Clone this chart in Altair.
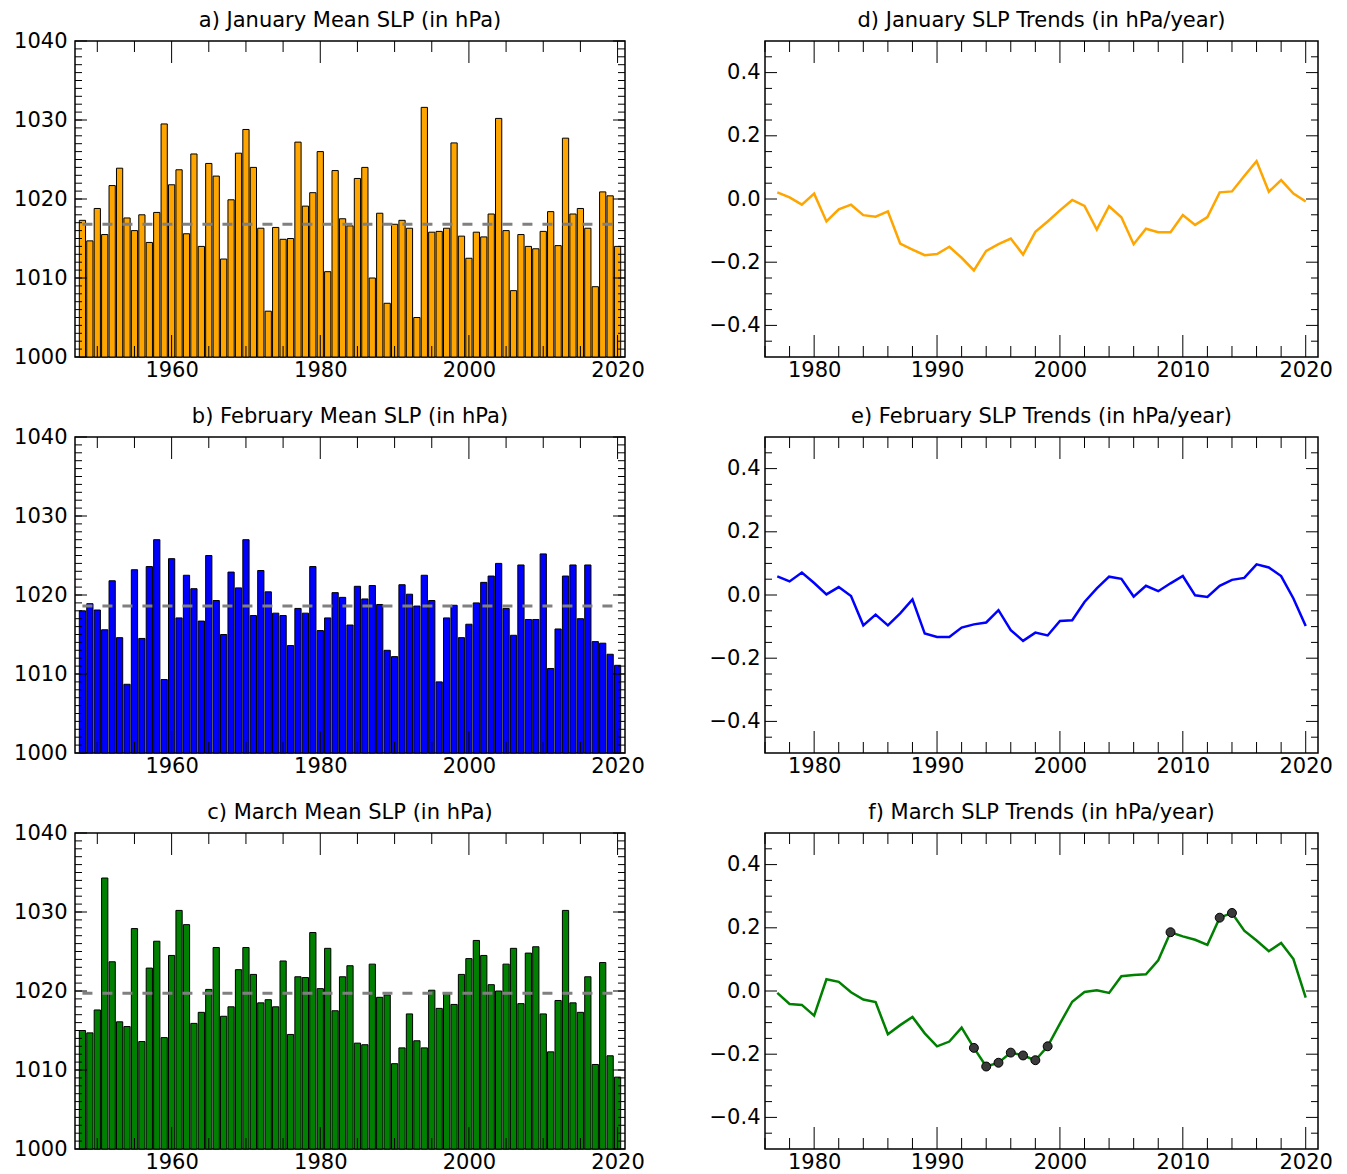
import altair as alt
import pandas as pd

FONT = "DejaVu Sans"

# ---------------- data ----------------
YEARS_BAR = list(range(1948, 2021))
JAN_SLP = [1017.3, 1014.7, 1018.8, 1015.5, 1021.7, 1023.9, 1017.6, 1016.0, 1018.0, 1014.5,
           1018.3, 1029.5, 1021.8, 1023.7, 1015.6, 1025.7, 1014.0, 1024.5, 1022.9, 1012.4,
           1019.9, 1025.8, 1028.8, 1024.0, 1016.3, 1005.8, 1016.4, 1014.9, 1015.0, 1027.2,
           1019.1, 1020.8, 1026.0, 1010.8, 1023.6, 1017.5, 1016.6, 1022.6, 1024.0, 1010.0,
           1018.2, 1006.8, 1016.8, 1017.3, 1016.3, 1005.0, 1031.6, 1015.8, 1015.9, 1016.3,
           1027.1, 1015.3, 1012.5, 1015.8, 1015.2, 1018.1, 1030.2, 1016.0, 1008.4, 1015.5,
           1014.0, 1013.7, 1015.9, 1018.4, 1014.1, 1027.7, 1018.1, 1018.8, 1016.3, 1008.9,
           1020.9, 1020.4, 1014.0]
FEB_SLP = [1018.0, 1018.9, 1018.1, 1015.6, 1021.8, 1014.6, 1008.7, 1023.2, 1014.5, 1023.6,
           1027.0, 1009.3, 1024.6, 1017.1, 1022.5, 1020.8, 1016.7, 1025.0, 1019.3, 1015.0,
           1022.9, 1020.9, 1027.0, 1017.4, 1023.1, 1020.4, 1017.7, 1017.4, 1013.6, 1018.3,
           1017.7, 1023.6, 1015.5, 1017.1, 1020.3, 1019.7, 1016.2, 1021.1, 1019.5, 1021.2,
           1018.8, 1013.0, 1012.2, 1021.3, 1020.1, 1018.6, 1022.5, 1019.3, 1009.0, 1017.1,
           1018.7, 1014.6, 1016.3, 1019.0, 1021.6, 1022.4, 1024.0, 1018.3, 1014.9, 1023.8,
           1016.9, 1016.9, 1025.2, 1010.7, 1015.7, 1022.4, 1023.8, 1017.0, 1023.8, 1014.1,
           1013.9, 1012.5, 1011.1]
MAR_SLP = [1015.0, 1014.7, 1017.6, 1034.3, 1023.7, 1016.1, 1015.5, 1027.9, 1013.6, 1022.9,
           1026.3, 1014.1, 1024.5, 1030.2, 1028.4, 1015.9, 1017.3, 1020.2, 1025.5, 1016.8,
           1018.0, 1022.7, 1025.5, 1022.1, 1018.5, 1018.9, 1018.0, 1023.8, 1014.5, 1021.8,
           1021.7, 1027.4, 1020.3, 1025.4, 1017.5, 1021.8, 1023.2, 1013.4, 1013.2, 1023.4,
           1019.2, 1019.5, 1010.8, 1012.8, 1017.1, 1013.7, 1012.8, 1020.1, 1017.8, 1019.8,
           1018.3, 1022.1, 1024.1, 1026.4, 1024.5, 1020.8, 1020.0, 1023.4, 1025.4, 1018.4,
           1024.8, 1025.6, 1017.1, 1012.3, 1018.8, 1030.2, 1018.5, 1017.3, 1021.8, 1010.7,
           1023.6, 1011.8, 1009.1]
MEAN_SLP = [1016.8, 1018.6, 1019.7]

YEARS_TREND = list(range(1977, 2021))
JAN_TREND = [0.021, 0.005, -0.018, 0.017, -0.071, -0.033, -0.018, -0.051, -0.056, -0.039,
             -0.141, -0.160, -0.178, -0.174, -0.151, -0.186, -0.226, -0.164, -0.143, -0.125,
             -0.176, -0.104, -0.071, -0.036, -0.003, -0.022, -0.097, -0.023, -0.058, -0.143,
             -0.094, -0.105, -0.105, -0.051, -0.082, -0.057, 0.021, 0.024, 0.073, 0.120,
             0.023, 0.060, 0.017, -0.008]
FEB_TREND = [0.059, 0.043, 0.071, 0.038, 0.002, 0.025, -0.003, -0.096, -0.062, -0.096,
             -0.058, -0.014, -0.122, -0.133, -0.133, -0.103, -0.093, -0.087, -0.048, -0.111,
             -0.145, -0.119, -0.128, -0.082, -0.080, -0.022, 0.021, 0.058, 0.051, -0.005,
             0.029, 0.012, 0.037, 0.060, -0.001, -0.006, 0.029, 0.048, 0.054, 0.097,
             0.087, 0.060, -0.011, -0.098]
MAR_TREND = [-0.006, -0.041, -0.044, -0.078, 0.037, 0.029, -0.004, -0.027, -0.035, -0.137,
             -0.108, -0.082, -0.134, -0.175, -0.160, -0.116, -0.180, -0.239, -0.227, -0.195,
             -0.204, -0.219, -0.175, -0.103, -0.034, -0.003, 0.002, -0.006, 0.047, 0.051,
             0.053, 0.097, 0.186, 0.173, 0.162, 0.146, 0.232, 0.247, 0.191, 0.160,
             0.126, 0.152, 0.101, -0.021]
MAR_SIG_YEARS = [1993, 1994, 1995, 1996, 1997, 1998, 1999, 2009, 2013, 2014]

BAR_TITLES = ["a) January Mean SLP (in hPa)", "b) February Mean SLP (in hPa)",
              "c) March Mean SLP (in hPa)"]
TREND_TITLES = ["d) January SLP Trends (in hPa/year)", "e) February SLP Trends (in hPa/year)",
                "f) March SLP Trends (in hPa/year)"]
COLORS = ["#FFA500", "#0000FF", "#008000"]

BAR_XDOMAIN = [1947, 2021]
BAR_YDOMAIN = [1000, 1040]
BAR_XTICKS_MAJOR = [1960, 1980, 2000, 2020]
BAR_XTICKS_MINOR = [1950, 1955, 1965, 1970, 1975, 1985, 1990, 1995, 2005, 2010, 2015]
BAR_YTICKS_MAJOR = [1000, 1010, 1020, 1030, 1040]
BAR_YTICKS_MINOR = list(range(1001, 1040))

TREND_XDOMAIN = [1976, 2021]
TREND_YDOMAIN = [-0.5, 0.5]
TREND_XTICKS_MAJOR = [1980, 1990, 2000, 2010, 2020]
TREND_XTICKS_MINOR = [1976, 1978, 1982, 1984, 1986, 1988, 1992, 1994, 1996, 1998,
                      2002, 2004, 2006, 2008, 2012, 2014, 2016, 2018]
TREND_YTICKS_MAJOR = [-0.4, -0.2, 0.0, 0.2, 0.4]
TREND_YTICKS_MINOR = [-0.45, -0.35, -0.3, -0.25, -0.15, -0.1, -0.05,
                      0.05, 0.1, 0.15, 0.25, 0.3, 0.35, 0.45]

LW, RW, H = 550, 553, 316
FS = 21


def axis(values, fmt, pad):
    return alt.Axis(values=values, format=fmt, ticks=False, tickSize=0, domain=False,
                    grid=False, labelFontSize=FS, labelFont=FONT, labelColor="black",
                    labelPadding=pad, labelFlush=False, labelOverlap=False, title=None)


def tick_layers(xs, ys, xax, yax, xmaj, xmin, ymaj, ymin, w, h):
    out = []
    for vals, L in ((ymaj, 12), (ymin, 7)):
        df = pd.DataFrame({"tv": vals})
        for left in (True, False):
            out.append(alt.Chart(df).mark_rule(color="black", strokeWidth=1).encode(
                y=alt.Y("tv:Q", scale=ys, axis=yax),
                x=alt.value(0 if left else w),
                x2=alt.value(L if left else w - L)))
    for vals, L in ((xmaj, 22), (xmin, 11)):
        df = pd.DataFrame({"th": vals})
        for bottom in (True, False):
            out.append(alt.Chart(df).mark_rule(color="black", strokeWidth=1).encode(
                x=alt.X("th:Q", scale=xs, axis=xax),
                y=alt.value(h if bottom else 0),
                y2=alt.value(h - L if bottom else L)))
    return out


def title(t, off):
    return alt.TitleParams(t, fontSize=FS, font=FONT, fontWeight="normal",
                           color="black", anchor="middle", offset=off)


def bar_panel(i):
    df = pd.DataFrame({"year": YEARS_BAR, "slp": [JAN_SLP, FEB_SLP, MAR_SLP][i]})
    xs = alt.Scale(domain=BAR_XDOMAIN, nice=False, zero=False)
    ys = alt.Scale(domain=BAR_YDOMAIN, nice=False, zero=False)
    xax = axis(BAR_XTICKS_MAJOR, "d", 2)
    yax = axis(BAR_YTICKS_MAJOR, "d", 8)
    bars = alt.Chart(df).transform_calculate(
        x0="datum.year - 0.42", x1="datum.year + 0.42", base=str(BAR_YDOMAIN[0])
    ).mark_bar(fill=COLORS[i], stroke="black", strokeWidth=1, opacity=1).encode(
        x=alt.X("x0:Q", scale=xs, axis=xax),
        x2="x1:Q",
        y=alt.Y("slp:Q", scale=ys, axis=yax),
        y2="base:Q",
    )
    mdf = pd.DataFrame({"x0": [YEARS_BAR[0]], "x1": [YEARS_BAR[-1]], "m": [MEAN_SLP[i]]})
    mean = alt.Chart(mdf).mark_rule(color="#808080", strokeWidth=3, strokeDash=[10, 10]).encode(
        x=alt.X("x0:Q", scale=xs, axis=xax), x2="x1:Q",
        y=alt.Y("m:Q", scale=ys, axis=yax))
    layers = [bars, mean] + tick_layers(xs, ys, xax, yax, BAR_XTICKS_MAJOR, BAR_XTICKS_MINOR,
                                        BAR_YTICKS_MAJOR, BAR_YTICKS_MINOR, LW, H)
    return alt.layer(*layers).properties(width=LW, height=H, title=title(BAR_TITLES[i], -1))


def trend_panel(i):
    vals = [JAN_TREND, FEB_TREND, MAR_TREND][i]
    df = pd.DataFrame({"year": YEARS_TREND, "trend": vals})
    xs = alt.Scale(domain=TREND_XDOMAIN, nice=False, zero=False)
    ys = alt.Scale(domain=TREND_YDOMAIN, nice=False, zero=False)
    xax = axis(TREND_XTICKS_MAJOR, "d", 2)
    yax = axis(TREND_YTICKS_MAJOR, ".1f", 5)
    line = alt.Chart(df).mark_line(color=COLORS[i], strokeWidth=2.5).encode(
        x=alt.X("year:Q", scale=xs, axis=xax),
        y=alt.Y("trend:Q", scale=ys, axis=yax),
    )
    layers = [line]
    if i == 2:
        sig = df[df["year"].isin(MAR_SIG_YEARS)]
        layers.append(alt.Chart(sig).mark_circle(size=80, color="#3a3a3a", stroke="black",
                                                 strokeWidth=1, opacity=1).encode(
            x=alt.X("year:Q", scale=xs, axis=xax),
            y=alt.Y("trend:Q", scale=ys, axis=yax)))
    layers += tick_layers(xs, ys, xax, yax, TREND_XTICKS_MAJOR, TREND_XTICKS_MINOR,
                          TREND_YTICKS_MAJOR, TREND_YTICKS_MINOR, RW, H)
    return alt.layer(*layers).properties(width=RW, height=H, title=title(TREND_TITLES[i], 10))


panels = []
for i in range(3):
    panels.append(bar_panel(i))
    panels.append(trend_panel(i))

chart = alt.concat(*panels, columns=2, spacing={"row": 80, "column": 140},
                   bounds="flush").properties(
    padding={"left": 4, "top": 0, "right": 5, "bottom": 0},
    background="white",
).configure_view(stroke="black", strokeWidth=1.5)

chart.save("out.html", embed_options={"renderer": "svg", "actions": False})
